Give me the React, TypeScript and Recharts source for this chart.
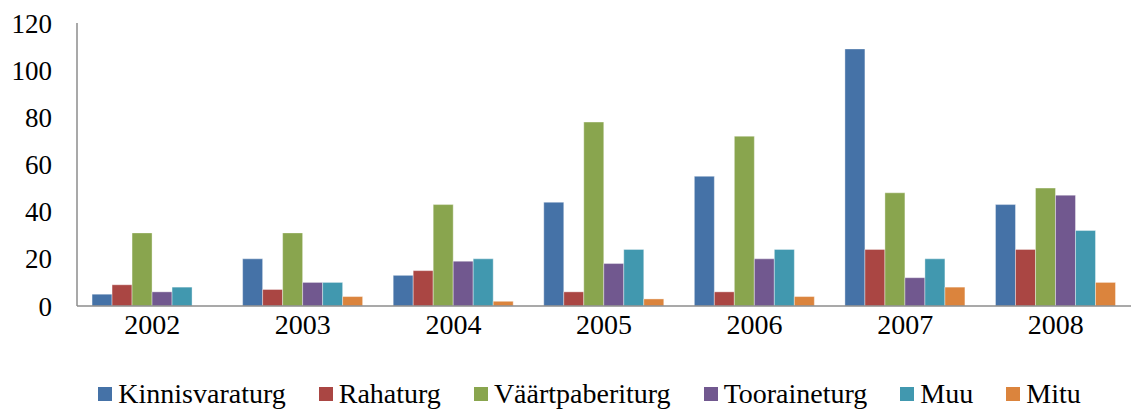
import { BarChart, Bar, XAxis, YAxis, Legend } from 'recharts';

const years = ['2002', '2003', '2004', '2005', '2006', '2007', '2008'];
const kinnisvaraturg = [5, 20, 13, 44, 55, 109, 43];
const rahaturg = [9, 7, 15, 6, 6, 24, 24];
const vaartpaberiturg = [31, 31, 43, 78, 72, 48, 50];
const tooraineturg = [6, 10, 19, 18, 20, 12, 47];
const muu = [8, 10, 20, 24, 24, 20, 32];
const mitu = [0, 4, 2, 3, 4, 8, 10];
const yTicks = [0, 20, 40, 60, 80, 100, 120];

const series = [
  { key: 'Kinnisvaraturg', values: kinnisvaraturg, color: '#4572A7' },
  { key: 'Rahaturg', values: rahaturg, color: '#AA4643' },
  { key: 'Väärtpaberiturg', values: vaartpaberiturg, color: '#89A54E' },
  { key: 'Tooraineturg', values: tooraineturg, color: '#71588F' },
  { key: 'Muu', values: muu, color: '#4198AF' },
  { key: 'Mitu', values: mitu, color: '#DB843D' },
];

const data = years.map((year, i) => {
  const row: Record<string, string | number> = { year };
  series.forEach((s) => {
    row[s.key] = s.values[i];
  });
  return row;
});

const FONT = 'Liberation Serif';

const LegendContent = () => (
  <div
    style={{
      display: 'flex',
      justifyContent: 'center',
      paddingLeft: 48,
      paddingTop: 9,
      height: 40,
      boxSizing: 'border-box',
      fontFamily: FONT,
      fontSize: 28,
      lineHeight: '28px',
      color: '#000',
    }}
  >
    {series.map((s, i) => (
      <div
        key={s.key}
        style={{ display: 'flex', alignItems: 'center', marginLeft: i === 0 ? 0 : 33 }}
      >
        <span style={{ width: 14, height: 14, background: s.color, marginRight: 6, display: 'inline-block' }} />
        <span>{s.key}</span>
      </div>
    ))}
  </div>
);

const App = () => {
  return (
    <div style={{ width: 1131, height: 409, background: '#fff', fontFamily: FONT }}>
      <style>{'body{margin:0}'}</style>
      <BarChart
        width={1131}
        height={409}
        data={data}
        margin={{ top: 23, right: 0, left: 0, bottom: 0 }}
        barCategoryGap="10%"
        barGap={0}
      >
        <XAxis
          dataKey="year"
          stroke="#8c8c8c"
          strokeWidth={1.5}
          tickLine={false}
          height={63}
          tick={{ fill: '#000', fontSize: 28, fontFamily: FONT }}
        />
        <YAxis
          domain={[0, 120]}
          ticks={yTicks}
          width={77}
          stroke="#8c8c8c"
          strokeWidth={1.5}
          tickLine={false}
          tickMargin={19}
          tick={{ fill: '#000', fontSize: 27, fontFamily: FONT }}
        />
        <Legend verticalAlign="bottom" height={40} content={<LegendContent />} />
        {series.map((s) => (
          <Bar
            key={s.key}
            dataKey={s.key}
            fill={s.color}
            stroke="#ffffff"
            strokeOpacity={0.5}
            strokeWidth={0.75}
            isAnimationActive={false}
          />
        ))}
      </BarChart>
    </div>
  );
};

export default App;
